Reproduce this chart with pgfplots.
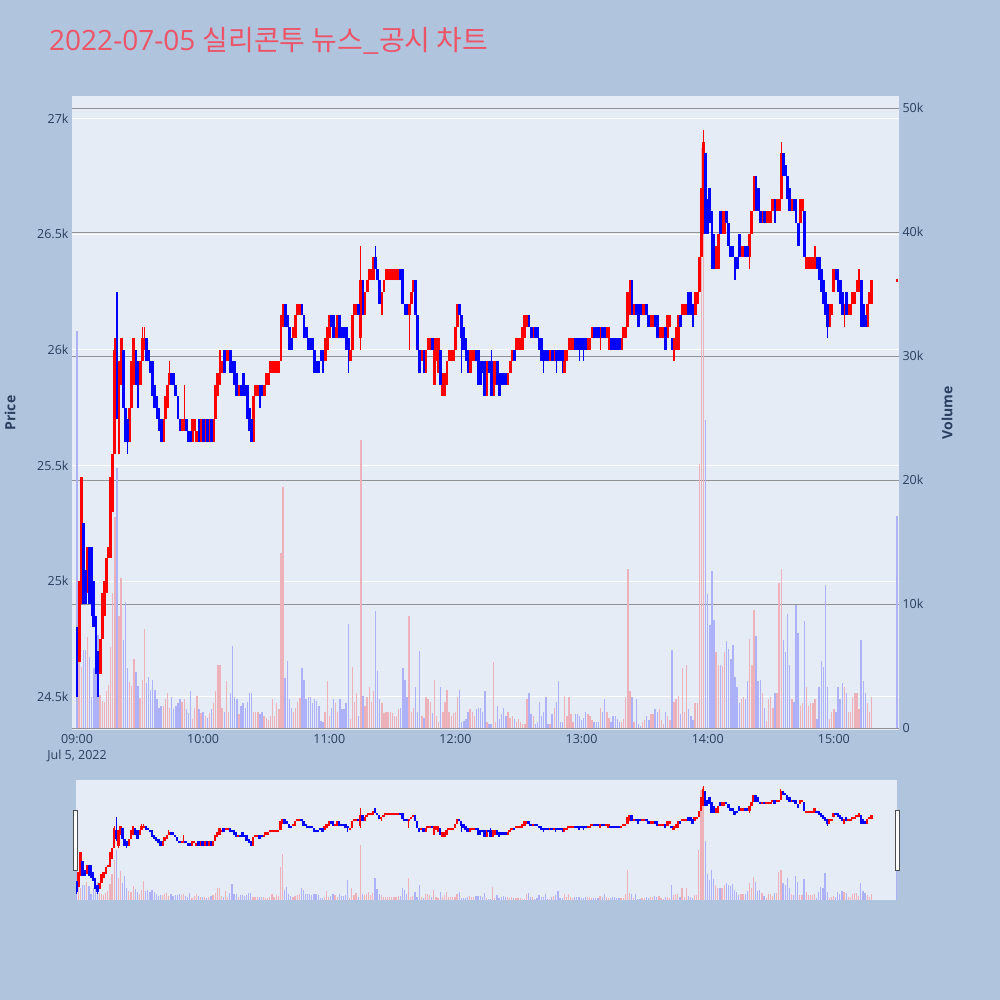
\documentclass[border=0pt]{standalone}
\usepackage{fontspec}
\setmainfont{Open Sans}
\newfontfamily\kr{Noto Sans CJK KR}
\usepackage{pgfplots}
\usepackage{pgfplotstable}
\pgfplotsset{compat=1.18}
\definecolor{pagebg}{RGB}{176,196,222}
\definecolor{plotbg}{RGB}{229,236,246}
\definecolor{axcol}{RGB}{42,63,95}
\definecolor{ttl}{RGB}{236,84,104}
\definecolor{cred}{RGB}{255,0,0}
\definecolor{cblue}{RGB}{0,0,255}
\definecolor{vred}{RGB}{236,177,185}
\definecolor{vblue}{RGB}{172,177,248}
\definecolor{vgrid}{RGB}{145,145,150}

\pgfplotstableread{
m o c v
0 24.80 24.55 32
1 24.65 25.00 7.1
2 24.95 25.45 4.9
3 25.25 24.90 6.3
4 25.05 24.90 6.3
5 24.95 25.15 7.3
6 25.15 24.90 5.7
7 25.15 24.95 2.5
8 25.00 24.80 4.8
9 24.85 24.60 5.8
10 24.70 24.55 7.5
11 24.60 24.75 2.7
12 24.75 24.95 2.2
13 24.85 25.00 2.1
14 24.95 25.10 3.0
15 25.10 25.15 3.5
16 25.10 25.45 6.5
17 25.30 25.55 10.9
18 25.55 26.00 17
19 25.95 25.75 21
20 25.60 25.95 9
21 25.85 26.05 12.1
22 26.00 25.75 7.1
23 25.75 25.60 10.2
24 25.70 25.60 4.8
25 25.60 25.75 3.7
26 25.75 25.95 3.4
27 25.85 26.05 5.6
28 26.00 25.85 4.5
29 25.95 25.75 3.4
30 25.85 25.95 2.4
31 25.95 26.05 3.9
32 26.00 26.05 8.0
33 26.05 25.95 3.6
34 26.00 25.95 4.1
35 25.95 25.90 3.1
36 25.95 25.80 3.9
37 25.85 25.75 3.1
38 25.80 25.70 2.3
39 25.75 25.65 1.6
40 25.70 25.60 1.8
41 25.60 25.70 1.8
42 25.70 25.80 2.3
43 25.75 25.85 2.8
44 25.85 25.90 1.6
45 25.90 25.85 2.5
46 25.90 25.85 1.5
47 25.85 25.80 1.8
48 25.80 25.70 2.0
49 25.70 25.65 2.3
50 25.65 25.70 2.1
51 25.65 25.70 2.3
52 25.70 25.65 1.5
53 25.65 25.60 1.2
54 25.65 25.60 3.0
55 25.60 25.70 0.7
56 25.65 25.70 1.6
57 25.60 25.65 2.6
58 25.70 25.60 1.5
59 25.60 25.70 1.2
60 25.70 25.60 1.3
61 25.60 25.70 1.0
62 25.70 25.60 0.8
63 25.60 25.70 1.2
64 25.70 25.60 1.5
65 25.60 25.70 2.0
66 25.70 25.85 3.0
67 25.80 25.90 5.1
68 25.85 26.00 5.1
69 25.90 25.95 1.6
70 26.00 25.90 1.3
71 25.95 26.00 3.8
72 25.95 26.00 1.3
73 26.00 25.90 2.8
74 25.95 25.90 6.6
75 25.95 25.85 2.5
76 25.90 25.80 2.3
77 25.80 25.85 1.15
78 25.85 25.80 1.8
79 25.90 25.80 2.0
80 25.85 25.80 1.6
81 25.85 25.70 2.1
82 25.75 25.65 2.8
83 25.70 25.60 2.8
84 25.60 25.80 1.3
85 25.80 25.85 1.3
86 25.80 25.85 1.3
87 25.85 25.75 1.15
88 25.85 25.80 1.3
89 25.80 25.85 1.0
90 25.85 25.90 0.8
91 25.85 25.90 0.65
92 25.90 25.95 1.0
93 25.90 25.95 2.3
94 25.90 25.95 1.0
95 25.90 25.95 2.0
96 25.90 25.95 1.5
97 25.95 26.15 14.1
98 26.10 26.20 19.4
99 26.20 26.10 4.0
100 26.15 26.10 5.4
101 26.10 26.00 2.3
102 26.05 26.00 1.6
103 26.05 26.10 1.3
104 26.05 26.15 1.6
105 26.15 26.20 2.1
106 26.15 26.20 2.4
107 26.20 26.15 4.8
108 26.15 26.05 3.9
109 26.10 26.05 2.3
110 26.05 26.00 2.5
111 26.05 26.00 2.5
112 26.05 26.00 2.0
113 26.00 25.90 2.3
114 25.95 25.90 2.2
115 25.95 25.90 1.8
116 26.00 25.95 0.6
117 26.00 25.90 0.5
118 25.95 26.05 1.3
119 26.00 26.10 3.8
120 26.05 26.15 1.0
121 26.15 26.10 1.6
122 26.15 26.05 2.3
123 26.05 26.10 2.0
124 26.05 26.15 1.3
125 26.15 26.05 2.3
126 26.10 26.05 1.5
127 26.10 26.05 1.5
128 26.10 26.00 2.0
129 26.05 26.00 8.4
130 25.95 26.00 0.7
131 26.00 26.15 4.9
132 26.15 26.20 2.1
133 26.15 26.20 2.8
134 26.20 26.15 1.0
135 26.05 26.30 23.2
136 26.30 26.15 2.6
137 26.15 26.25 1.8
138 26.25 26.30 2.5
139 26.30 26.35 3.3
140 26.30 26.35 2.1
141 26.30 26.40 3.0
142 26.40 26.35 9.4
143 26.35 26.30 4.6
144 26.30 26.20 2.3
145 26.20 26.25 2.0
146 26.25 26.30 1.2
147 26.30 26.35 1.3
148 26.30 26.35 1.3
149 26.30 26.35 1.3
150 26.30 26.35 1.2
151 26.30 26.35 1.0
152 26.30 26.35 1.0
153 26.30 26.35 1.5
154 26.35 26.30 1.6
155 26.35 26.20 4.8
156 26.20 26.15 3.9
157 26.20 26.15 2.5
158 26.15 26.20 9.0
159 26.20 26.25 1.3
160 26.25 26.30 1.6
161 26.30 26.15 3.3
162 26.15 26.00 1.3
163 26.00 25.90 6.2
164 25.95 26.00 1.0
165 26.00 25.90 0.8
166 25.90 26.00 2.5
167 26.00 26.05 2.3
168 26.00 26.05 2.1
169 26.05 26.00 1.2
170 25.85 26.05 3.9
171 25.95 26.05 1.0
172 25.90 26.05 0.5
173 26.00 25.85 3.3
174 25.80 25.90 1.3
175 25.80 25.90 2.1
176 25.85 25.95 3.1
177 25.95 26.00 1.3
178 25.95 26.00 1.0
179 25.95 26.00 1.2
180 26.00 26.10 1.3
181 26.10 26.20 2.5
182 26.20 26.15 3.1
183 26.15 26.05 0.5
184 26.10 26.00 0.6
185 26.05 25.95 0.7
186 26.00 25.90 1.3
187 25.90 26.00 1.5
188 25.95 26.00 1.3
189 25.95 26.00 1.0
190 26.00 25.95 1.5
191 26.00 25.85 1.6
192 25.95 25.85 1.6
193 25.95 25.90 1.3
194 25.95 25.80 3.0
195 25.80 25.95 0.5
196 25.95 25.90 0.35
197 25.95 25.80 0.35
198 25.80 25.95 5.3
199 25.85 25.95 0.5
200 25.95 25.85 1.8
201 25.90 25.80 0.7
202 25.90 25.85 1.15
203 25.90 25.85 1.6
204 25.90 25.85 1.0
205 25.85 25.90 1.3
206 25.90 25.95 0.8
207 25.95 26.00 1.0
208 26.00 25.95 0.7
209 26.00 26.05 0.5
210 26.00 26.05 0.7
211 26.00 26.05 0.5
212 26.00 26.10 0.35
213 26.05 26.15 0.35
214 26.10 26.15 2.3
215 26.15 26.10 2.8
216 26.10 26.05 1.15
217 26.05 26.10 1.0
218 26.10 26.05 0.35
219 26.10 26.05 0.5
220 26.05 26.00 2.1
221 26.05 25.95 1.0
222 26.00 25.95 1.3
223 26.00 25.95 2.5
224 26.00 25.95 0.35
225 25.95 26.00 0.35
226 26.00 25.95 1.15
227 25.95 26.00 1.6
228 26.00 25.95 2.1
229 26.00 25.95 3.8
230 26.00 25.95 0.5
231 26.00 25.95 0.5
232 25.90 26.00 2.6
233 25.95 26.00 1.0
234 26.00 26.05 2.5
235 26.00 26.05 1.15
236 26.00 26.05 0.5
237 26.05 26.00 1.15
238 26.05 26.00 1.15
239 26.05 26.00 1.0
240 26.05 26.00 0.65
241 26.05 26.00 0.8
242 26.05 26.00 1.3
243 26.00 26.05 1.15
244 26.00 26.05 1.0
245 26.05 26.10 0.65
246 26.10 26.05 0.5
247 26.10 26.05 0.5
248 26.10 26.05 0.5
249 26.05 26.10 1.6
250 26.10 26.05 1.3
251 26.10 26.05 2.3
252 26.05 26.10 1.3
253 26.00 26.10 0.8
254 26.05 26.00 0.5
255 26.05 26.00 1.0
256 26.05 26.00 1.0
257 26.05 26.00 0.7
258 26.05 26.00 0.5
259 26.00 26.05 0.5
260 26.05 26.10 0.7
261 26.05 26.10 2.5
262 26.10 26.25 12.8
263 26.15 26.30 3.0
264 26.30 26.15 2.5
265 26.15 26.20 0.5
266 26.20 26.15 2.3
267 26.20 26.10 0.35
268 26.20 26.15 0.2
269 26.15 26.20 0.5
270 26.15 26.20 0.65
271 26.20 26.15 1.0
272 26.15 26.10 0.65
273 26.10 26.15 1.15
274 26.10 26.15 1.15
275 26.15 26.10 1.5
276 26.15 26.05 1.3
277 26.05 26.10 1.5
278 26.05 26.10 0.65
279 26.05 26.10 0.35
280 26.10 26.00 1.3
281 26.05 26.15 1.0
282 26.10 26.15 0.65
283 26.05 26.00 6.3
284 25.95 26.05 2.1
285 26.00 26.10 2.3
286 26.00 26.15 2.6
287 26.15 26.10 1.15
288 26.15 26.20 4.8
289 26.15 26.20 1.3
290 26.15 26.20 5.1
291 26.25 26.15 1.5
292 26.25 26.15 1.0
293 26.20 26.10 0.65
294 26.15 26.25 2.0
295 26.20 26.25 2.0
296 26.25 26.40 21.3
297 26.40 26.70 46.8
298 26.50 26.90 48
299 26.85 26.50 24.8
300 26.65 26.50 10.8
301 26.70 26.55 8.3
302 26.60 26.35 12.7
303 26.50 26.35 8.7
304 26.35 26.45 6.1
305 26.35 26.50 5.1
306 26.60 26.50 5.1
307 26.50 26.60 5.0
308 26.50 26.60 6.1
309 26.60 26.55 7.0
310 26.55 26.45 6.4
311 26.45 26.40 5.6
312 26.45 26.40 6.7
313 26.40 26.30 4.1
314 26.40 26.35 3.3
315 26.50 26.40 2.0
316 26.40 26.45 2.3
317 26.40 26.45 2.5
318 26.45 26.40 2.3
319 26.45 26.40 3.8
320 26.40 26.50 7.2
321 26.50 26.60 5.1
322 26.60 26.75 9.5
323 26.75 26.60 7.4
324 26.70 26.60 3.8
325 26.60 26.55 3.9
326 26.55 26.60 2.8
327 26.60 26.55 1.6
328 26.55 26.60 0.6
329 26.55 26.60 2.3
330 26.55 26.60 2.5
331 26.60 26.65 1.6
332 26.65 26.55 2.8
333 26.60 26.65 2.8
334 26.60 26.65 11.7
335 26.65 26.85 12.8
336 26.85 26.75 7.1
337 26.80 26.75 6.1
338 26.75 26.65 9.2
339 26.70 26.60 5.1
340 26.60 26.65 2.3
341 26.65 26.60 2.1
342 26.65 26.55 9.9
343 26.55 26.45 7.7
344 26.55 26.65 1.8
345 26.60 26.65 2.0
346 26.60 26.40 8.6
347 26.35 26.40 3.3
348 26.35 26.40 1.8
349 26.35 26.40 2.0
350 26.35 26.40 2.0
351 26.35 26.45 2.3
352 26.40 26.35 0.7
353 26.40 26.30 3.3
354 26.35 26.25 5.4
355 26.30 26.20 4.9
356 26.25 26.15 11.5
357 26.20 26.10 3.3
358 26.10 26.20 0.7
359 26.15 26.20 1.3
360 26.25 26.35 1.5
361 26.35 26.30 1.3
362 26.35 26.25 3.3
363 26.30 26.20 2.3
364 26.25 26.15 3.6
365 26.15 26.20 3.3
366 26.25 26.15 2.8
367 26.15 26.20 1.3
368 26.15 26.20 1.3
369 26.20 26.25 2.5
370 26.20 26.25 2.8
371 26.25 26.30 2.8
372 26.25 26.35 1.5
373 26.30 26.10 7.1
374 26.20 26.10 3.8
375 26.15 26.10 2.8
376 26.10 26.20 2.0
377 26.20 26.25 1.3
378 26.20 26.30 2.5
390 26.295 26.305 0
}\data

\pgfplotstableread{
m l h
2 24.90 25.45
18 25.55 26.05
20 25.55 25.95
31 25.95 26.10
32 26.00 26.10
44 25.85 25.95
51 25.65 25.85
135 26.00 26.45
145 26.15 26.25
158 26.00 26.20
249 26.00 26.10
298 26.50 26.95
320 26.35 26.50
335 26.65 26.90
365 26.10 26.20
}\wup

\pgfplotstableread{
m l h
0 24.50 24.80
7 24.85 25.15
10 24.50 24.70
19 25.70 26.25
24 25.55 25.70
129 25.90 26.05
142 26.35 26.45
183 25.90 26.15
197 25.80 26.00
222 25.90 26.00
228 25.90 26.00
231 25.90 26.00
239 25.95 26.05
241 25.95 26.05
357 26.05 26.20
}\wdown

\pgfplotsset{nomk/.style={draw=none, mark=none, forget plot}}
\newcommand{\candles}[2]{%
\addplot[nomk, error bars/.cd, y dir=plus, y explicit, error mark=none, error bar style={line width=#2, draw=cred}] table[x=m, y=l, y error plus expr={\thisrow{h}-\thisrow{l}}]{\wup};
\addplot[nomk, error bars/.cd, y dir=plus, y explicit, error mark=none, error bar style={line width=#2, draw=cblue}] table[x=m, y=l, y error plus expr={\thisrow{h}-\thisrow{l}}]{\wdown};
\addplot[nomk, restrict expr to domain={\thisrow{c}-\thisrow{o}}{0.001:100}, error bars/.cd, y dir=plus, y explicit, error mark=none, error bar style={line width=#1, draw=cred}] table[x=m, y=o, y error plus expr={\thisrow{c}-\thisrow{o}}]{\data};
\addplot[nomk, restrict expr to domain={\thisrow{c}-\thisrow{o}}{-100:-0.001}, error bars/.cd, y dir=plus, y explicit, error mark=none, error bar style={line width=#1, draw=cblue}] table[x=m, y=c, y error plus expr={\thisrow{o}-\thisrow{c}}]{\data};
}
\newcommand{\volbars}[1]{%
\addplot[ycomb, mark=none, line width=#1, vred, restrict expr to domain={\thisrow{c}-\thisrow{o}}{0.001:100}] table[x=m, y=v]{\data};
\addplot[ycomb, mark=none, line width=#1, vblue, restrict expr to domain={\thisrow{c}-\thisrow{o}}{-100:-0.001}] table[x=m, y=v]{\data};
\addplot[ycomb, mark=none, line width=#1, vblue] coordinates {(390,17.1)};
}

\pgfplotsset{
  mainax/.style={scale only axis, width=827pt, height=634pt, at={(72pt,270pt)}, anchor=south west,
    xmin=-2.4, xmax=391, axis line style={draw=none}, major tick length=0pt,
    tick label style={font=\fontsize{12.5}{15.5}\selectfont, text=axcol}},
  slideax/.style={scale only axis, width=821pt, height=120pt, at={(76pt,100pt)}, anchor=south west,
    xmin=-0.15, xmax=390.2, axis line style={draw=none}, major tick length=0pt, xtick=\empty, ytick=\empty},
}

\begin{document}
\begin{tikzpicture}
\fill[pagebg] (0pt,0pt) rectangle (1000pt,1000pt);
% main price axis: background, white grid, ticks
\begin{axis}[mainax, ymin=24.357, ymax=27.097,
  axis background/.style={fill=plotbg},
  ytick={24.5,25,25.5,26,26.5,27}, yticklabels={24.5k,25k,25.5k,26k,26.5k,27k},
  ymajorgrids, major grid style={white, line width=1pt},
  xtick={0,60,120,180,240,300,360},
  xticklabels={{09:00\\Jul 5, 2022},10:00,11:00,12:00,13:00,14:00,15:00},
  xticklabel style={align=center, anchor=north, yshift=-1pt}]
\addplot[draw=none, forget plot] coordinates {(0,25)};
\end{axis}
% volume axis
\begin{axis}[mainax, ymin=-0.16, ymax=50.97, axis y line*=right, xtick=\empty,
  ytick={0,10,20,30,40,50}, yticklabels={0,10k,20k,30k,40k,50k},
  ymajorgrids, major grid style={vgrid, line width=1pt},
  yticklabel style={anchor=west, xshift=0pt}]
\volbars{1.4pt}
\end{axis}
% candles
\begin{axis}[mainax, ymin=24.357, ymax=27.097, xtick=\empty, ytick=\empty]
\candles{2.8pt}{1.3pt}
\end{axis}
% range slider
\begin{axis}[slideax, ymin=-0.16, ymax=50.97, axis background/.style={fill=plotbg}]
\volbars{1.2pt}
\end{axis}
\begin{axis}[slideax, ymin=24.357, ymax=27.097]
\candles{2.4pt}{1.1pt}
\end{axis}
% slider handles
\draw[fill=white, draw=black!70, line width=0.8pt] (73.5pt,130pt) rectangle (77.5pt,190pt);
\draw[fill=white, draw=black!70, line width=0.8pt] (895.5pt,130pt) rectangle (899.5pt,190pt);
% titles
\node[anchor=base west, inner sep=0pt, text=ttl, font=\fontsize{28}{32}\selectfont] at (49pt,949pt) {2022-07-05 {\kr 실리콘투 뉴스\_공시 차트}};
\node[rotate=90, text=axcol, font=\fontsize{14}{16}\selectfont\bfseries] at (10pt,587pt) {Price};
\node[rotate=90, text=axcol, font=\fontsize{14}{16}\selectfont\bfseries] at (947pt,587pt) {Volume};
\end{tikzpicture}
\end{document}
